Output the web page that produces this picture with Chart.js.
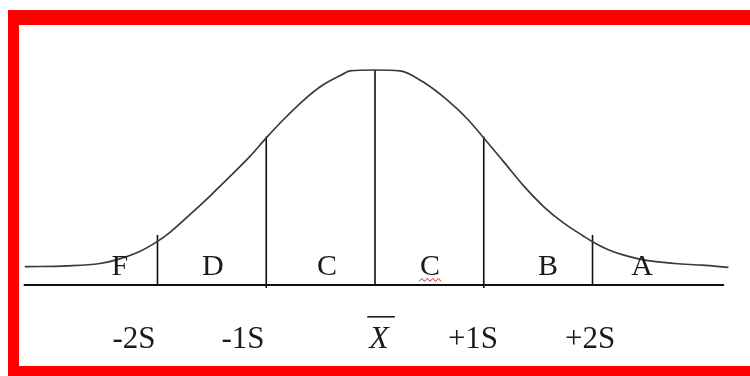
<!DOCTYPE html>
<html lang="en">
<head>
    <meta charset="UTF-8">
    <title>Grading Curve</title>
    <script src="https://cdn.jsdelivr.net/npm/chart.js"></script>
    <style>
        body {
            margin: 0;
            width: 750px;
            height: 376px;
            overflow: hidden;
            background: #fff;
            position: relative;
        }
        #frame {
            position: absolute;
            left: 8px;
            top: 10px;
            width: 780px;
            height: 341px;
            border-top: 15px solid #ff0000;
            border-left: 11px solid #ff0000;
            border-bottom: 10px solid #ff0000;
        }
        canvas {
            position: absolute;
            left: 0;
            top: 0;
        }
    </style>
</head>
<body>
    <div id="frame"></div>
    <canvas id="curveChart" width="750" height="376"></canvas>

    <script>
        // curve: x in standard deviations, height relative to the peak
        const curveX = [-3.22, -2.83, -2.53, -2.37, -2.16, -2.0, -1.885, -1.70, -1.515, -1.333, -1.15, -1.0,
            -0.85, -0.66, -0.48, -0.29, -0.23, 0, 0.23, 0.44, 0.66, 0.85, 1.0, 1.18, 1.365, 1.55, 1.73,
            1.915, 2.0, 2.14, 2.33, 2.51, 2.76, 3.01, 3.25];
        const curveY = [0.085, 0.089, 0.100, 0.118, 0.157, 0.203, 0.245, 0.328, 0.415, 0.505, 0.598, 0.684,
            0.765, 0.858, 0.930, 0.982, 0.996, 1.0, 0.996, 0.945, 0.862, 0.772, 0.684, 0.575, 0.462, 0.365, 0.290,
            0.228, 0.201, 0.165, 0.133, 0.113, 0.100, 0.092, 0.082];

        // dividing lines
        const dividerX = [-2, -1, 0, 1, 2];
        const dividerTop = [0.233, 0.69, 1.0, 0.69, 0.233];
        const dividerBottom = [0, -0.014, 0, -0.014, 0];

        // baseline extent
        const baseX = [-3.23, 3.21];

        // grade letters
        const grades = ['F', 'D', 'C', 'C', 'B', 'A'];
        const gradeX = [-2.345, -1.49, -0.441, 0.506, 1.591, 2.455];

        // labels under the axis
        const sdLabels = ['-2S', '-1S', 'X', '+1S', '+2S'];
        const sdLabelX = [-2.216, -1.214, 0.037, 0.901, 1.977];

        const gradeLevel = 0.047;
        const sdLabelLevel = -0.293;

        const datasets = [];
        datasets.push({
            data: curveX.map((x, i) => ({ x: x, y: curveY[i] })),
            showLine: true,
            borderColor: '#3a3a3a',
            borderWidth: 1.7,
            pointRadius: 0,
            cubicInterpolationMode: 'monotone',
            fill: false
        });
        datasets.push({
            data: baseX.map(x => ({ x: x, y: 0 })),
            showLine: true,
            borderColor: '#111',
            borderWidth: 2,
            pointRadius: 0
        });
        dividerX.forEach((x, i) => {
            datasets.push({
                data: [{ x: x, y: dividerBottom[i] }, { x: x, y: dividerTop[i] }],
                showLine: true,
                borderColor: '#111',
                borderWidth: 1.6,
                pointRadius: 0
            });
        });

        const labelPlugin = {
            id: 'labels',
            afterDatasetsDraw(chart) {
                const ctx = chart.ctx;
                const xs = chart.scales.x;
                const ys = chart.scales.y;
                ctx.save();
                ctx.fillStyle = '#1a1a1a';
                ctx.textAlign = 'center';
                ctx.textBaseline = 'alphabetic';

                ctx.font = '30px "Liberation Serif"';
                const gy = ys.getPixelForValue(gradeLevel);
                grades.forEach((g, i) => {
                    ctx.fillText(g, xs.getPixelForValue(gradeX[i]), gy);
                });

                // red spell-check squiggle under the second C
                const sx = xs.getPixelForValue(gradeX[3]);
                ctx.strokeStyle = '#d02020';
                ctx.lineWidth = 1;
                ctx.beginPath();
                for (let k = 0; k <= 8; k++) {
                    const px = sx - 11 + k * 2.75;
                    const py = gy + 5 + (k % 2 === 0 ? 1.5 : -1.5);
                    if (k === 0) ctx.moveTo(px, py); else ctx.lineTo(px, py);
                }
                ctx.stroke();

                const ly = ys.getPixelForValue(sdLabelLevel);
                sdLabels.forEach((t, i) => {
                    const px = xs.getPixelForValue(sdLabelX[i]);
                    if (t === 'X') {
                        ctx.font = 'italic 32px "Liberation Serif"';
                        ctx.fillText(t, px, ly);
                        const w = ctx.measureText(t).width;
                        ctx.fillRect(px - w / 2 - 2, ly - 32, w + 8, 1.6);
                    } else {
                        ctx.font = '31px "Liberation Serif"';
                        ctx.fillText(t, px, ly);
                    }
                });
                ctx.restore();
            }
        };

        new Chart(document.getElementById('curveChart'), {
            type: 'scatter',
            data: { datasets: datasets },
            options: {
                responsive: false,
                animation: false,
                layout: { padding: 0 },
                plugins: {
                    legend: { display: false },
                    tooltip: { enabled: false }
                },
                scales: {
                    x: { type: 'linear', display: false, min: -3.448, max: 3.448 },
                    y: { type: 'linear', display: false, min: -0.4233, max: 1.3256 }
                }
            },
            plugins: [labelPlugin]
        });
    </script>
</body>
</html>
